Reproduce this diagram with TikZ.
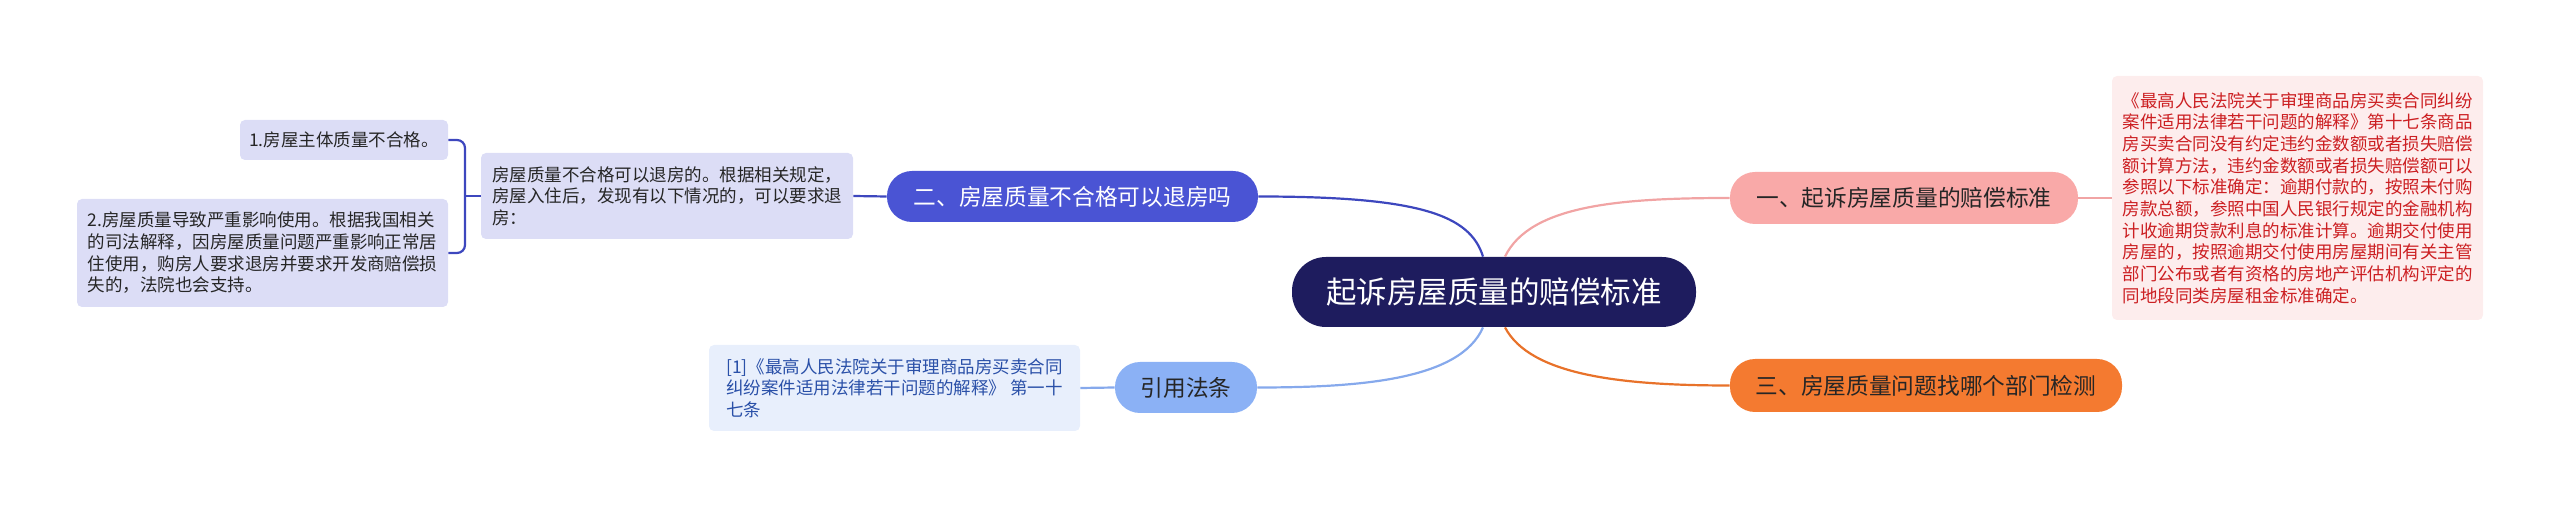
\documentclass[tikz,border=0pt]{standalone}
\usepackage{fontspec}
\setmainfont{Noto Sans CJK SC}
\definecolor{rootc}{HTML}{1E1C5E}
\definecolor{twoc}{HTML}{4A54D4}
\definecolor{twoln}{HTML}{3D47BE}
\definecolor{lav}{HTML}{DCDDF6}
\definecolor{onec}{HTML}{F9A9A8}
\definecolor{oneln}{HTML}{F1A4A4}
\definecolor{onebg}{HTML}{FDEDED}
\definecolor{onetx}{HTML}{CC1F22}
\definecolor{threec}{HTML}{F47A30}
\definecolor{threeln}{HTML}{E8722A}
\definecolor{refc}{HTML}{8BB1F5}
\definecolor{refln}{HTML}{86A9EC}
\definecolor{refbg}{HTML}{E8EFFC}
\definecolor{reftx}{HTML}{2A50A8}

\begin{document}
\begin{tikzpicture}[x=0.5pt, y=-0.5pt,
                    txt/.style={font=\fontsize{8.75pt}{10.85pt}\selectfont, align=left,
                                rounded corners=2.5pt, inner sep=0pt, text=black!85},
                    br/.style={font=\fontsize{11.35pt}{13pt}\selectfont,
                               rounded corners=12.5pt, inner sep=0pt, text=black!85},
                    lk/.style={line width=1.1pt}]
  \useasboundingbox (0,0) rectangle (2560,507);
  % centre
  \node[fill=rootc, text=white, rounded corners=17pt, inner sep=0pt,
        minimum width=202pt, minimum height=35pt,
        font=\fontsize{15.25pt}{17pt}\selectfont] (root) at (1494,292) {起诉房屋质量的赔偿标准};
  % branches
  \node[br, fill=twoc, text=white, minimum width=185.5pt, minimum height=25.5pt] (two) at (1072.5,196.5) {二、房屋质量不合格可以退房吗};
  \node[br, fill=onec, minimum width=174pt, minimum height=26pt] (one) at (1904,198) {一、起诉房屋质量的赔偿标准};
  \node[br, fill=threec, minimum width=196pt, minimum height=26.5pt] (three) at (1926,385.5) {三、房屋质量问题找哪个部门检测};
  \node[br, fill=refc, minimum width=71pt, minimum height=25.5pt] (ref) at (1186,387.5) {引用法条};
  % leaves
  \node[txt, fill=lav, minimum width=186pt, minimum height=43pt] (twotxt) at (667,196)
    {房屋质量不合格可以退房的。根据相关规定，\\房屋入住后，发现有以下情况的，可以要求退\\房：};
  \node[txt, fill=lav, minimum width=104pt, minimum height=20pt] (twoa) at (344,140) {1.房屋主体质量不合格。};
  \node[txt, fill=lav, minimum width=185.5pt, minimum height=54pt] (twob) at (262.5,253)
    {2.房屋质量导致严重影响使用。根据我国相关\\的司法解释，因房屋质量问题严重影响正常居\\住使用，购房人要求退房并要求开发商赔偿损\\失的，法院也会支持。};
  \node[txt, fill=onebg, text=onetx, minimum width=185.5pt, minimum height=122pt] (onetxt) at (2297.5,198)
    {《最高人民法院关于审理商品房买卖合同纠纷\\案件适用法律若干问题的解释》第十七条商品\\房买卖合同没有约定违约金数额或者损失赔偿\\额计算方法，违约金数额或者损失赔偿额可以\\参照以下标准确定：逾期付款的，按照未付购\\房款总额，参照中国人民银行规定的金融机构\\计收逾期贷款利息的标准计算。逾期交付使用\\房屋的，按照逾期交付使用房屋期间有关主管\\部门公布或者有资格的房地产评估机构评定的\\同地段同类房屋租金标准确定。};
  \node[txt, fill=refbg, text=reftx, minimum width=185.5pt, minimum height=43pt] (reftxt) at (894.5,388)
    {[1]《最高人民法院关于审理商品房买卖合同\\纠纷案件适用法律若干问题的解释》 第一十\\七条};
  % links
  \draw[lk, twoln] ([xshift=-5.5pt]root.north) .. controls (1470,215) and (1420,196.5) .. (two.east);
  \draw[lk, oneln] ([xshift=5.5pt]root.north) .. controls (1530,205) and (1620,198) .. (one.west);
  \draw[lk, threeln] ([xshift=5.5pt]root.south) .. controls (1530,375) and (1620,385.5) .. (three.west);
  \draw[lk, refln] ([xshift=-5.5pt]root.south) .. controls (1460,380) and (1360,387.5) .. (ref.east);
  \draw[lk, twoln] (two.west) -- (twotxt.east);
  \draw[lk, oneln] (one.east) -- (onetxt.west);
  \draw[lk, refln] (ref.west) -- (reftxt.east);
  \coordinate (brk) at (465,196);
  \draw[lk, twoln] (twotxt.west) -- (brk);
  \draw[lk, twoln, rounded corners=4pt] (twoa.east) -| (brk) |- (twob.east);
\end{tikzpicture}
\end{document}
